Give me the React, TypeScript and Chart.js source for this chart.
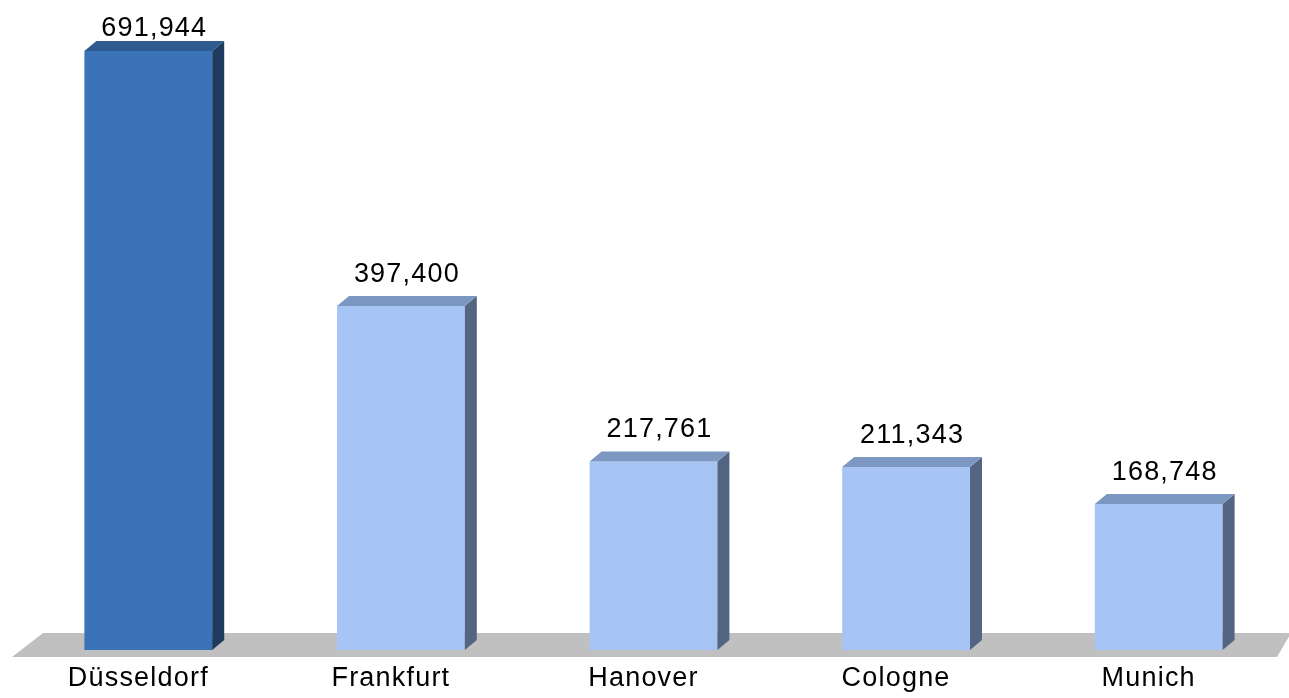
import React, { useEffect, useRef } from "react";
import { Chart, registerables } from "chart.js";

Chart.register(...registerables);

const categories = ["Düsseldorf", "Frankfurt", "Hanover", "Cologne", "Munich"];
const values = [691944, 397400, 217761, 211343, 168748];
const frontColors = ["#3b73b8", "#a6c5f4", "#a6c5f4", "#a6c5f4", "#a6c5f4"];
const topColors = ["#2e5a90", "#7b97c2", "#7b97c2", "#7b97c2", "#7b97c2"];
const sideColors = ["#1f3b60", "#536582", "#536582", "#536582", "#536582"];

const FONT = "'Liberation Sans', Arial, sans-serif";
const DX = 12;
const DY = 10;

const threeD = {
  id: "threeD",
  beforeDraw(chart: any) {
    (chart.ctx as any).letterSpacing = "1.2px";
  },
  beforeDatasetsDraw(chart: any) {
    const { ctx, chartArea } = chart;
    const { left, right, bottom } = chartArea;
    ctx.save();
    ctx.fillStyle = "#c0c0c0";
    ctx.beginPath();
    ctx.moveTo(left - 10, bottom + 7);
    ctx.lineTo(left + 21, bottom - 17);
    ctx.lineTo(right + 6, bottom - 17);
    ctx.lineTo(right - 8, bottom + 7);
    ctx.closePath();
    ctx.fill();
    ctx.restore();
  },
  afterDatasetsDraw(chart: any) {
    const { ctx } = chart;
    const meta = chart.getDatasetMeta(0);
    ctx.save();
    meta.data.forEach((bar: any, i: number) => {
      const w = bar.width;
      const l = bar.x - w / 2;
      const r = bar.x + w / 2;
      const t = bar.y;
      const b = bar.base;
      ctx.fillStyle = sideColors[i];
      ctx.beginPath();
      ctx.moveTo(r, t);
      ctx.lineTo(r + DX, t - DY);
      ctx.lineTo(r + DX, b - DY);
      ctx.lineTo(r, b);
      ctx.closePath();
      ctx.fill();
      ctx.fillStyle = topColors[i];
      ctx.beginPath();
      ctx.moveTo(l, t);
      ctx.lineTo(l + DX, t - DY);
      ctx.lineTo(r + DX, t - DY);
      ctx.lineTo(r, t);
      ctx.closePath();
      ctx.fill();
      (ctx as any).letterSpacing = "1.2px";
      ctx.fillStyle = "#000000";
      ctx.font = `27px ${FONT}`;
      ctx.textAlign = "center";
      ctx.textBaseline = "alphabetic";
      const text = values[i].toLocaleString("en-US");
      const ty = Math.max(t - 24, 36);
      ctx.fillText(text, bar.x + 6, ty);
    });
    ctx.restore();
  },
};

export default function App() {
  const ref = useRef<HTMLCanvasElement>(null);
  useEffect(() => {
    document.body.style.margin = "0";
    const chart = new Chart(ref.current!, {
      type: "bar",
      data: {
        labels: categories,
        datasets: [
          {
            data: values,
            backgroundColor: frontColors,
            borderWidth: 0,
            categoryPercentage: 1,
            barPercentage: 0.506,
          },
        ],
      },
      options: {
        animation: false,
        responsive: false,
        layout: { padding: { left: 22, right: 4, top: 44, bottom: 0 } },
        plugins: { legend: { display: false }, tooltip: { enabled: false } },
        scales: {
          x: {
            grid: { display: false, drawTicks: false },
            border: { display: false },
            afterFit(scale: any) {
              scale.height = 48;
            },
            ticks: {
              color: "#000000",
              padding: 12,
              labelOffset: -10,
              font: { family: FONT, size: 27 },
            },
          },
          y: {
            display: false,
            min: 0,
            max: 700000,
          },
        },
      },
      plugins: [threeD],
    });
    return () => chart.destroy();
  }, []);
  return (
    <div style={{ width: 1289, height: 698 }}>
      <canvas ref={ref} width={1289} height={698} style={{ display: "block" }} />
    </div>
  );
}
